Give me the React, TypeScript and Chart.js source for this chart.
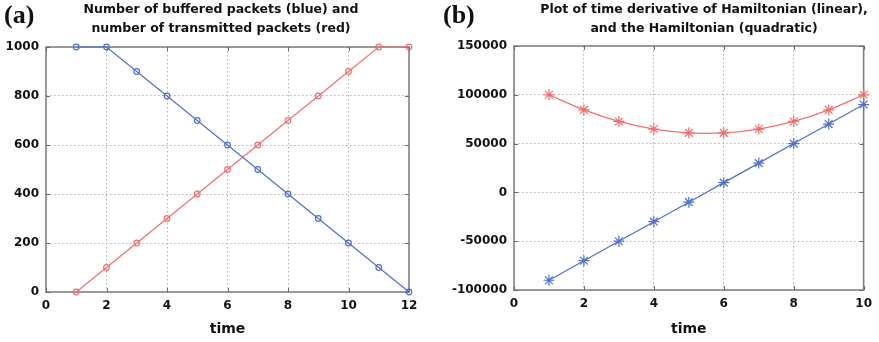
import React, { useEffect, useRef } from 'react';
import { Chart, registerables } from 'chart.js';

Chart.register(...registerables);

// ---- Panel (a) data ----
const timeA = [1, 2, 3, 4, 5, 6, 7, 8, 9, 10, 11, 12];
const bufferedA = [1000, 1000, 900, 800, 700, 600, 500, 400, 300, 200, 100, 0];
const transmittedA = [0, 100, 200, 300, 400, 500, 600, 700, 800, 900, 1000, 1000];
const titleA = ['Number of buffered packets (blue) and', 'number of transmitted packets (red)'];

// ---- Panel (b) data ----
const timeB = [1, 2, 3, 4, 5, 6, 7, 8, 9, 10];
const derivativeB = [-90000, -70000, -50000, -30000, -10000, 10000, 30000, 50000, 70000, 90000];
const hamiltonianB = [100000, 84500, 72700, 64900, 61000, 61000, 64900, 72700, 84500, 100000];
const titleB = ['Plot of time derivative of Hamiltonian (linear),', 'and the Hamiltonian (quadratic)'];

const BLUE = '#5070cc';
const RED = '#f26e6e';
const FONT = '"DejaVu Sans", Verdana, sans-serif';

const framePlugin = {
  id: 'frame',
  beforeDatasetsDraw(chart: any) {
    const { ctx, chartArea } = chart;
    const { left, right, top, bottom } = chartArea;
    const xs = chart.scales.x;
    const ys = chart.scales.y;
    ctx.save();
    ctx.strokeStyle = '#7d7d7d';
    ctx.lineWidth = 1.5;
    ctx.strokeRect(left, top, right - left, bottom - top);
    ctx.lineWidth = 1;
    ctx.strokeStyle = '#6a6a6a';
    ctx.beginPath();
    xs.ticks.forEach((t: any) => {
      const px = Math.round(xs.getPixelForValue(t.value)) + 0.5;
      ctx.moveTo(px, bottom);
      ctx.lineTo(px, bottom - 4);
      ctx.moveTo(px, top);
      ctx.lineTo(px, top + 4);
    });
    ys.ticks.forEach((t: any) => {
      const py = Math.round(ys.getPixelForValue(t.value)) + 0.5;
      ctx.moveTo(left, py);
      ctx.lineTo(left + 4, py);
      ctx.moveTo(right, py);
      ctx.lineTo(right - 4, py);
    });
    ctx.stroke();
    ctx.restore();
  },
  afterDraw(chart: any, _args: any, opts: any) {
    const { ctx } = chart;
    ctx.save();
    ctx.fillStyle = '#111';
    ctx.font = 'bold 26px "Liberation Serif", "DejaVu Serif", serif';
    ctx.textAlign = 'left';
    ctx.textBaseline = 'alphabetic';
    ctx.fillText(opts.panel, opts.panelX, 23);
    ctx.font = 'bold 12.5px ' + FONT;
    ctx.textAlign = 'center';
    ctx.textBaseline = 'middle';
    (opts.title as string[]).forEach((line, i) => {
      ctx.fillText(line, opts.titleX, 10 + i * 18.5);
    });
    ctx.restore();
  },
};

function makeConfig(p: {
  xs: number[];
  series: { data: number[]; color: string; style: string; radius: number; tension: number }[];
  xMax: number;
  yMin: number;
  yMax: number;
  yStep: number;
  yWidth: number;
  xHeight: number;
  padTop: number;
  padRight: number;
  panel: string;
  panelX: number;
  title: string[];
  titleX: number;
}): any {
  return {
    type: 'line',
    data: {
      datasets: p.series.map((s) => ({
        data: p.xs.map((x, i) => ({ x, y: s.data[i] })),
        borderColor: s.color,
        backgroundColor: 'transparent',
        borderWidth: 1.2,
        pointStyle: s.style,
        pointRadius: s.radius,
        pointBorderColor: s.color,
        pointBackgroundColor: 'transparent',
        pointBorderWidth: 1.2,
        tension: s.tension,
        clip: false,
      })),
    },
    options: {
      responsive: false,
      animation: false,
      events: [],
      layout: { autoPadding: false, padding: { top: p.padTop, right: p.padRight, left: 0, bottom: 0 } },
      plugins: {
        legend: { display: false },
        tooltip: { enabled: false },
        title: { display: false },
        frame: { panel: p.panel, panelX: p.panelX, title: p.title, titleX: p.titleX },
      },
      scales: {
        x: {
          type: 'linear',
          min: 0,
          max: p.xMax,
          afterFit: (s: any) => {
            s.height = p.xHeight;
          },
          ticks: {
            stepSize: 2,
            padding: 7,
            color: '#111',
            font: { family: FONT, size: 12, weight: 'bold' },
            callback: (v: any) => String(v),
            maxRotation: 0,
          },
          grid: { color: '#b0b0b0', lineWidth: 1, drawTicks: false },
          border: { display: false, dash: [1.5, 2.5] },
          title: {
            display: true,
            text: 'time',
            color: '#111',
            font: { family: FONT, size: 14, weight: 'bold' },
            padding: { top: 0, bottom: 4 },
          },
        },
        y: {
          type: 'linear',
          min: p.yMin,
          max: p.yMax,
          afterFit: (s: any) => {
            s.width = p.yWidth;
          },
          ticks: {
            stepSize: p.yStep,
            padding: 7,
            color: '#111',
            font: { family: FONT, size: 12, weight: 'bold' },
            callback: (v: any) => String(v),
          },
          grid: { color: '#b0b0b0', lineWidth: 1, drawTicks: false },
          border: { display: false, dash: [1.5, 2.5] },
        },
      },
    },
    plugins: [framePlugin],
  };
}

function Panel(props: { config: any; left: number; width: number }) {
  const ref = useRef<HTMLCanvasElement | null>(null);
  useEffect(() => {
    if (!ref.current) return;
    const chart = new Chart(ref.current, props.config);
    return () => chart.destroy();
  }, []);
  return (
    <div style={{ position: 'absolute', left: props.left, top: 0, width: props.width, height: 342 }}>
      <canvas ref={ref} width={props.width} height={342} style={{ display: 'block' }} />
    </div>
  );
}

export default function App() {
  const configA = makeConfig({
    xs: timeA,
    series: [
      { data: bufferedA, color: BLUE, style: 'circle', radius: 2.8, tension: 0 },
      { data: transmittedA, color: RED, style: 'circle', radius: 2.8, tension: 0 },
    ],
    xMax: 12,
    yMin: 0,
    yMax: 1000,
    yStep: 200,
    yWidth: 46,
    xHeight: 50,
    padTop: 47,
    padRight: 31,
    panel: '(a)',
    panelX: 4,
    title: titleA,
    titleX: 221,
  });
  const configB = makeConfig({
    xs: timeB,
    series: [
      { data: hamiltonianB, color: RED, style: 'star', radius: 5.5, tension: 0.3 },
      { data: derivativeB, color: BLUE, style: 'star', radius: 5.5, tension: 0 },
    ],
    xMax: 10,
    yMin: -100000,
    yMax: 150000,
    yStep: 50000,
    yWidth: 74,
    xHeight: 52,
    padTop: 46,
    padRight: 15,
    panel: '(b)',
    panelX: 3,
    title: titleB,
    titleX: 264,
  });
  return (
    <div style={{ position: 'fixed', left: 0, top: 0, width: 879, height: 342, background: '#fff', overflow: 'hidden' }}>
      <Panel config={configA} left={0} width={440} />
      <Panel config={configB} left={440} width={439} />
    </div>
  );
}
